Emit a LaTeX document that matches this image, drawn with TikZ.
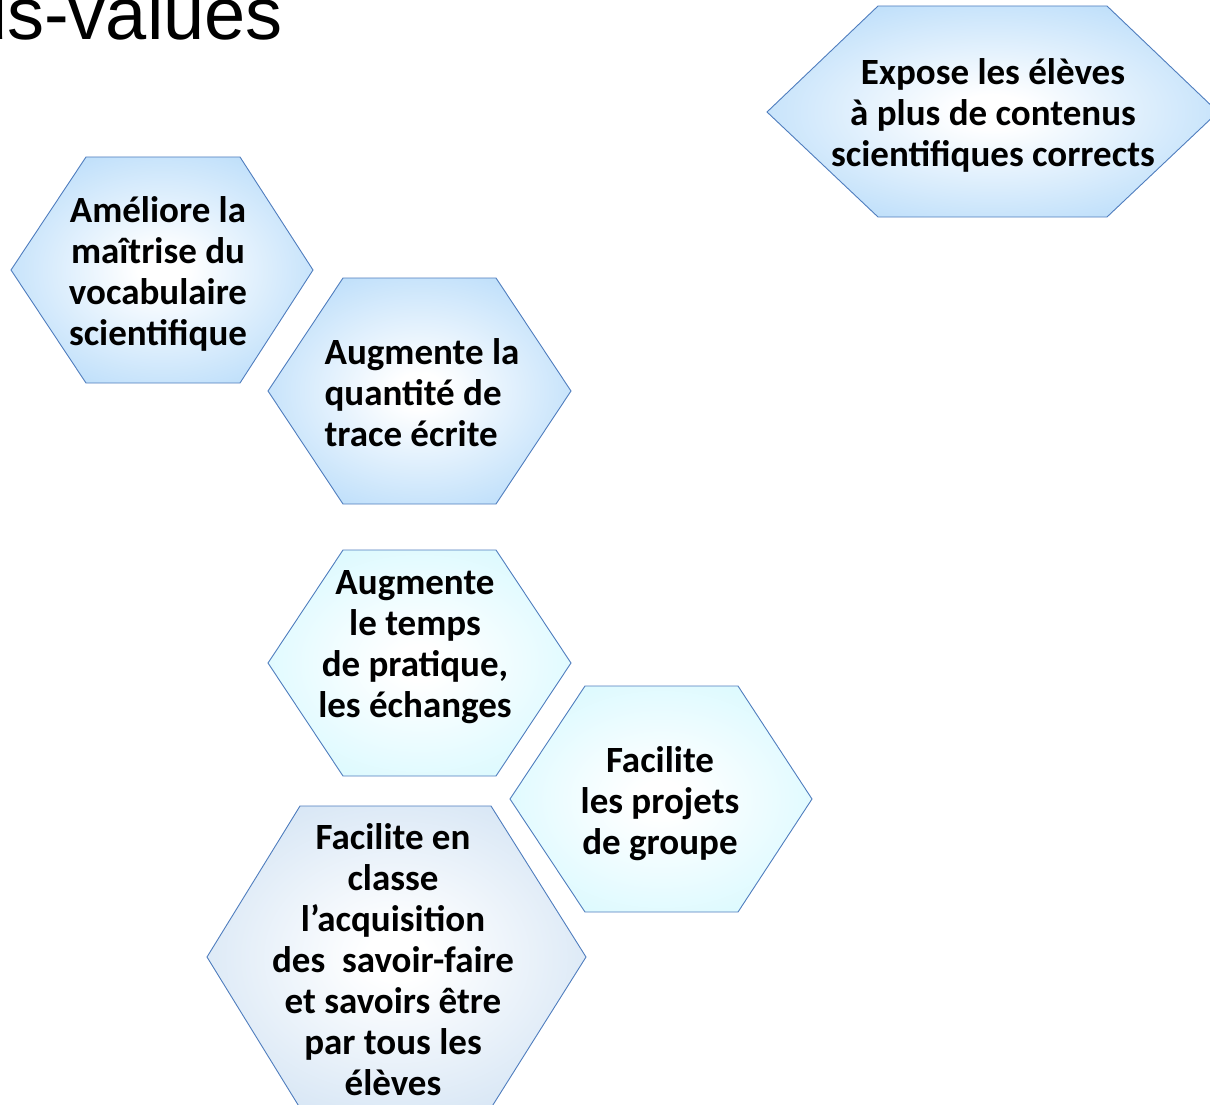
\documentclass[tikz,border=0pt]{standalone}
\usepackage{fontspec}
\setmainfont{Carlito}
\newfontfamily\titlefont{Liberation Sans}
\usetikzlibrary{positioning}

\definecolor{cellblue}{RGB}{150,203,247}
\definecolor{cellcyan}{RGB}{198,246,254}
\definecolor{cellgrey}{RGB}{188,213,238}
\definecolor{cellline}{RGB}{79,125,190}

\pgfdeclareradialshading{glowblue}{\pgfpoint{0bp}{0bp}}%
  {color(0bp)=(white); color(4bp)=(white); color(44bp)=(cellblue); color(75bp)=(cellblue)}
\pgfdeclareradialshading{glowcyan}{\pgfpoint{0bp}{0bp}}%
  {color(0bp)=(white); color(4bp)=(white); color(44bp)=(cellcyan); color(75bp)=(cellcyan)}
\pgfdeclareradialshading{glowgrey}{\pgfpoint{0bp}{0bp}}%
  {color(0bp)=(white); color(4bp)=(white); color(46bp)=(cellgrey); color(75bp)=(cellgrey)}

\begin{document}
\begin{tikzpicture}
  [x=1pt,y=-1pt,
   cell/.style={draw=cellline,line width=0.9pt,line join=miter,shade},
   blue cell/.style={cell,shading=glowblue},
   cyan cell/.style={cell,shading=glowcyan},
   grey cell/.style={cell,shading=glowgrey},
   cell text/.style={font=\fontsize{37}{41}\selectfont\bfseries,align=center,inner sep=0pt},
   heading/.style={font=\titlefont\fontsize{74}{84}\selectfont,inner sep=0pt}]

  \useasboundingbox (0,0) rectangle (1210,1105);
  \clip (0,0) rectangle (1210,1105);

  % title, cut off at the left edge
  \node [heading,anchor=base east] (title) at (283,40) {Plus-values};

  % blue cells
  \draw [blue cell] (878,6) -- (1107,6) -- (1218,112) -- (1107,217) -- (878,217) -- (767,112) -- cycle;
  \draw [blue cell] (86,157) -- (240,157) -- (313,270) -- (240,383) -- (86,383) -- (11,270) -- cycle;
  \draw [blue cell] (343,278) -- (496,278) -- (571,391) -- (496,504) -- (343,504) -- (268,391) -- cycle;

  % cyan cells
  \draw [cyan cell] (343,550) -- (496,550) -- (571,663) -- (496,776) -- (343,776) -- (268,663) -- cycle;
  \draw [cyan cell] (585,686) -- (738,686) -- (812,799) -- (738,912) -- (585,912) -- (510,799) -- cycle;

  % grey cell
  \draw [grey cell] (300,806) -- (491,806) -- (586,957) -- (491,1108) -- (300,1108) -- (207,957) -- cycle;

  \node [cell text] (expose)   at (993,115) {Expose les élèves\\à plus de contenus\\scientifiques corrects};
  \node [cell text] (vocab)    at (158,274) {Améliore la\\maîtrise du\\vocabulaire\\scientifique};
  \node [cell text,align=left] (trace) at (422,393) {Augmente la\\quantité de\\trace écrite};
  \node [cell text] (pratique) at (415,647) {Augmente\\le temps\\de pratique,\\les échanges};
  \node [cell text] (projets)  at (660,804) {Facilite\\les projets\\de groupe};
  \node [cell text] (classe)   at (393,960) {Facilite en\\classe\\l’acquisition\\des~~savoir-faire\\et savoirs être\\par tous les\\élèves};

\end{tikzpicture}
\end{document}
